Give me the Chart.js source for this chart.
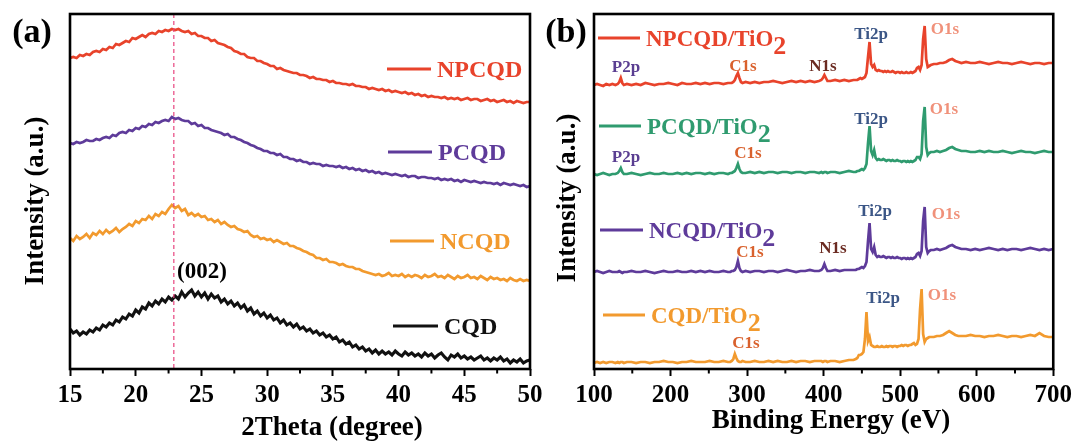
<!DOCTYPE html>
<html><head><meta charset="utf-8">
<script src="https://cdn.jsdelivr.net/npm/chart.js@4.4.0/dist/chart.umd.min.js"></script>
<style>
html,body{margin:0;padding:0;background:#fff;}
#wrap{position:relative;width:1077px;height:441px;background:#fff;}
canvas{position:absolute;left:0;top:0;}
</style>
</head><body>
<div id="wrap"><canvas id="ca" width="1077" height="441"></canvas><canvas id="cb" width="1077" height="441"></canvas></div>
<script>
// ---------- Panel (a): XRD ----------
const thetaDeg = [
15,15.25,15.5,15.75,16,16.25,16.5,16.75,17,17.25,17.5,17.75,18,18.25,18.5,18.75,19,19.25,19.5,19.75,
20,20.25,20.5,20.75,21,21.25,21.5,21.75,22,22.25,22.5,22.75,23,23.25,23.5,23.75,24,24.25,24.5,24.75,
25,25.25,25.5,25.75,26,26.25,26.5,26.75,27,27.25,27.5,27.75,28,28.25,28.5,28.75,29,29.25,29.5,29.75,
30,30.25,30.5,30.75,31,31.25,31.5,31.75,32,32.25,32.5,32.75,33,33.25,33.5,33.75,34,34.25,34.5,34.75,
35,35.25,35.5,35.75,36,36.25,36.5,36.75,37,37.25,37.5,37.75,38,38.25,38.5,38.75,39,39.25,39.5,39.75,
40,40.25,40.5,40.75,41,41.25,41.5,41.75,42,42.25,42.5,42.75,43,43.25,43.5,43.75,44,44.25,44.5,44.75,
45,45.25,45.5,45.75,46,46.25,46.5,46.75,47,47.25,47.5,47.75,48,48.25,48.5,48.75,49,49.25,49.5,49.75,50];
const npcqdXRD = [
311,312,311,314, 313,315,314,317, 318,317,320,319, 322,321,325,324, 326,328,327,331,
330,332,334,332, 335,336,335,338, 337,339,338,340, 339,340,338,337, 338,335,336,333,
333,331,331,328, 329,326,325,324, 322,321,318,317, 315,315,312,311, 311,308,308,306,
305,303,303,300, 301,299,298,297, 296,296,294,294, 293,291,292,290, 290,289,289,287,
288,286,286,285, 285,284,285,283, 283,282,282,280, 281,280,279,280, 278,279,277,278,
277,276,277,275, 276,274,275,273, 274,272,273,272, 272,271,272,270, 271,270,271,269,
270,271,269,270, 270,268,269,270, 268,269,267,268, 269,267,268,266, 268,267,266,267, 267];
const pcqdXRD = [
226,225,227,226, 227,229,228,228, 230,229,231,232, 231,234,233,236, 237,236,239,238,
241,240,243,242, 245,244,247,246, 248,249,248,252, 250,251,249,248, 248,245,246,243,
244,241,241,239, 238,237,236,234, 235,232,232,230, 229,227,226,224, 223,221,220,218,
218,216,216,214, 215,212,212,210, 210,208,209,207, 207,205,206,205, 205,203,204,203,
203,202,203,201, 202,200,201,199, 200,198,199,197, 198,196,197,195, 196,195,194,195,
194,193,194,192, 193,193,191,192, 192,191,191,190, 191,189,190,189, 190,188,189,187,
189,188,187,188, 187,186,187,186, 186,185,186,184, 186,185,184,185, 184,183,184,182, 183];
const ncqdXRD = [
131,128,133,130, 132,135,131,136, 134,138,135,139, 136,138,141,137, 140,142,145,143,
148,146,150,149, 153,150,155,153, 157,155,160,164, 161,163,158,160, 154,156,153,155,
152,153,149,150, 147,149,145,147, 144,142,143,140, 139,137,138,134, 132,133,130,131,
129,130,127,129, 127,125,126,123, 123,121,120,118, 117,115,114,111, 111,109,110,107,
107,106,104,105, 103,102,102,100, 100,98,97,96, 95,94,95,93, 94,96,93,94,
93,95,92,94, 92,94,93,91, 94,92,93,95, 92,93,91,94, 92,90,93,91,
92,94,91,92, 90,93,91,89, 92,90,91,89, 90,88,91,89, 88,90,88,89, 88];
const cqdXRD = [
40,36,38,34, 37,35,39,37, 41,39,44,42, 46,44,49,47, 52,50,55,53,
59,56,62,60, 66,63,68,65, 70,67,72,69, 73,70,77,72, 76,79,73,77,
72,76,70,75, 71,73,67,70, 65,68,63,66, 61,64,58,61, 55,58,53,56,
51,54,49,51, 46,49,44,46, 42,45,40,42, 38,40,36,38, 34,36,32,34,
30,32,27,29, 25,27,22,24, 20,22,18,20, 16,19,15,18, 15,17,14,18,
15,13,17,14, 16,13,15,12, 16,13,15,11, 14,16,12,9, 14,12,15,11,
13,10,12,9, 11,13,9,11, 8,11,9,12, 8,10,6,9, 7,10,6,8, 9];
const xrdTicks = [15,20,25,30,35,40,45,50];
const xrdMinorTicks = [17.5,22.5,27.5,32.5,37.5,42.5,47.5];
const xrdPeak002 = 22.9;

// ---------- Panel (b): XPS ----------
const energyEV = [
100,104,108,112,116,120,124,128,
131,133,135,137,139,
143,149,155,161,167,173,179,185,191,197,203,209,215,221,227,233,239,245,251,257,263,269,275,
278,280,282,284,286,288,290,292,294,
298,304,310,316,322,328,334,340,346,352,358,364,370,376,382,388,394,
397,399,401,403,405,
409,415,421,427,433,439,
442,444,446,448,450,452,454,456,458,460,462,464,466,468,470,472,474,476,478,480,
482,484,486,488,490,492,494,496,498,500,502,504,506,508,510,512,514,516,518,520,
522,524,526,528,530,532,534,536,538,540,
544,548,552,556,560,564,568,572,576,580,
586,592,598,604,610,616,622,628,634,640,646,652,658,664,670,676,682,688,694,700];
const npcqdXPS = [
284,285,284,283,285,284,285,284,
285,287,291,286,284,
285,284,285,284,286,285,284,285,285,286,285,284,286,285,285,286,285,286,285,286,286,285,286,
286,286,287,289,293,296,291,287,286,
287,286,287,286,287,287,288,287,286,287,288,287,288,287,288,287,288,
289,291,294,291,288,
288,289,288,289,288,289,
289,289,290,291,290,291,292,296,312,327,305,302,304,299,298,299,298,298,297,298,
297,298,297,297,298,297,296,297,297,296,297,296,296,297,296,296,297,296,297,298,
301,302,299,304,330,343,310,302,303,304,
305,305,306,306,307,309,310,308,307,306,
307,306,306,307,306,305,306,307,306,306,305,306,307,306,305,306,306,305,306,306];
const pcqdXPS = [
195,194,195,196,195,194,195,195,
196,198,201,197,195,
195,196,195,194,195,196,195,195,196,195,195,196,195,196,195,196,196,195,196,195,196,196,195,
196,196,197,198,201,205,200,197,196,
196,197,196,197,196,197,197,196,197,197,196,197,197,196,197,197,196,
197,196,197,197,196,
197,197,196,197,198,197,
197,198,198,199,200,199,201,205,226,243,218,214,219,211,209,210,209,209,210,209,
208,209,209,208,209,208,208,209,208,208,207,208,208,207,208,207,208,207,208,209,
212,212,210,215,248,262,222,214,216,217,
217,218,217,218,219,221,222,220,219,218,
218,217,217,218,217,218,217,217,218,217,216,217,218,217,217,216,217,218,217,217];
const ncqdXPS = [
97,98,97,96,97,98,97,97,
97,98,97,96,97,
97,98,97,97,98,97,96,97,98,97,97,98,97,97,98,97,98,97,98,97,97,98,97,
97,98,98,99,102,108,101,98,97,
98,97,98,98,97,98,98,97,98,99,98,97,98,98,99,98,98,
99,101,105,101,98,
98,99,98,99,99,99,
99,100,100,101,102,101,103,107,128,146,120,117,122,114,112,113,112,112,113,112,
111,112,112,111,112,111,111,112,111,111,110,111,111,110,111,110,111,110,111,112,
115,116,113,118,148,162,122,116,118,119,
119,120,119,120,121,123,124,122,121,120,
120,119,120,119,120,121,120,119,120,119,120,120,119,120,121,120,119,120,119,120];
const cqdXPS = [
6,7,6,7,6,7,7,6,
7,6,7,7,6,
7,7,6,7,7,6,7,7,8,7,7,6,7,7,8,7,7,7,8,7,7,8,7,
7,8,10,15,11,8,7,7,8,
7,7,8,7,7,8,7,8,7,7,8,7,8,8,7,8,8,
8,7,8,8,7,
8,8,7,8,9,9,
10,11,14,14,15,17,30,57,28,32,24,23,22,22,23,22,22,23,22,22,
23,22,23,23,22,23,23,22,23,23,24,23,24,24,23,24,24,25,26,24,
25,30,60,80,35,27,30,31,32,32,
32,33,33,34,36,38,36,34,33,33,
33,34,33,33,32,33,33,34,33,32,33,33,32,33,34,33,36,33,32,32];
const xpsTicks = [100,200,300,400,500,600,700];
const xpsMinorTicks = [150,250,350,450,550,650];

// ---------- styling ----------
const FONT = "'Liberation Serif','Times New Roman',serif";
const RED = '#e8432b', PURPLE = '#5e3b9a', ORANGE = '#f29a2e', BLACK = '#111111', GREEN = '#2f9b6f';
const C_P2P = '#5a3e91', C_C1S = '#d9612d', C_N1S = '#6b2b22', C_TI = '#3b5686', C_O1S = '#f0917a';

function pts(xs, ys){ return xs.map((x,i)=>({x:x, y:ys[i]})); }

const decoPlugin = {
  id: 'deco',
  afterDraw(chart, args, opts) {
    const ctx = chart.ctx, a = chart.chartArea, xs = chart.scales.x;
    ctx.save();
    if (opts.refLine != null) {
      const px = xs.getPixelForValue(opts.refLine);
      ctx.strokeStyle = '#e8457f'; ctx.lineWidth = 1.2; ctx.setLineDash([4,3]);
      ctx.beginPath(); ctx.moveTo(px, a.top); ctx.lineTo(px, a.bottom); ctx.stroke();
      ctx.setLineDash([]);
    }
    ctx.strokeStyle = '#000'; ctx.lineWidth = 2;
    (opts.minor||[]).forEach(v => {
      const px = xs.getPixelForValue(v);
      ctx.beginPath(); ctx.moveTo(px, a.bottom); ctx.lineTo(px, a.bottom + 4.5); ctx.stroke();
    });
    ctx.lineWidth = 2.6;
    ctx.strokeRect(a.left, a.top, a.right - a.left, a.bottom - a.top);
    (opts.legend||[]).forEach(l => {
      ctx.strokeStyle = l.color; ctx.lineWidth = 3;
      ctx.beginPath(); ctx.moveTo(l.x1, l.y); ctx.lineTo(l.x2, l.y); ctx.stroke();
      ctx.fillStyle = l.color; ctx.textAlign = 'left'; ctx.textBaseline = 'alphabetic';
      ctx.font = 'bold ' + l.size + 'px ' + FONT;
      const base = l.y + l.size * 0.33;
      ctx.fillText(l.text, l.x2 + 6, base);
      if (l.sub) {
        const w = ctx.measureText(l.text).width;
        ctx.font = 'bold ' + (l.size + 3) + 'px ' + FONT;
        ctx.fillText(l.sub, l.x2 + 6 + w, base + 8);
      }
    });
    (opts.texts||[]).forEach(t => {
      ctx.save();
      ctx.fillStyle = t.color || '#000';
      ctx.font = 'bold ' + t.size + 'px ' + FONT;
      ctx.textAlign = t.align || 'center';
      ctx.textBaseline = 'middle';
      ctx.translate(t.x, t.y);
      if (t.rot) ctx.rotate(t.rot);
      ctx.fillText(t.s, 0, 0);
      ctx.restore();
    });
    ctx.restore();
  }
};

function xAxis(min, max, ticks) {
  return {
    type: 'linear', position: 'bottom', min: min, max: max,
    afterFit: s => { s.height = 72; },
    afterBuildTicks: s => { s.ticks = ticks.map(v => ({value: v})); },
    ticks: { font: {family: FONT, size: 25, weight: 'bold'}, color: '#000', padding: 5,
             maxRotation: 0, autoSkip: false, callback: v => String(v) },
    grid: { display: true, drawOnChartArea: false, drawTicks: true, tickLength: 7, tickWidth: 2, tickColor: '#000' },
    border: { display: false }
  };
}

function ds(label, xs, ys, color, w) {
  return { label: label, data: pts(xs, ys), borderColor: color, borderWidth: w, pointRadius: 0, tension: 0, fill: false };
}

new Chart(document.getElementById('ca'), {
  type: 'line',
  data: { datasets: [
    ds('NPCQD', thetaDeg, npcqdXRD, RED, 2.7),
    ds('PCQD', thetaDeg, pcqdXRD, PURPLE, 2.7),
    ds('NCQD', thetaDeg, ncqdXRD, ORANGE, 2.7),
    ds('CQD', thetaDeg, cqdXRD, BLACK, 3.1)
  ]},
  options: {
    responsive: false, animation: false, devicePixelRatio: 1,
    layout: { padding: { left: 70, right: 547, top: 14, bottom: 0 } },
    scales: { x: xAxis(15, 50, xrdTicks), y: { display: false, min: 0, max: 355 } },
    plugins: {
      legend: { display: false }, tooltip: { enabled: false },
      deco: {
        refLine: xrdPeak002, minor: xrdMinorTicks,
        legend: [
          {x1: 387, x2: 431, y: 69, color: RED, text: 'NPCQD', size: 24},
          {x1: 388, x2: 432, y: 152, color: PURPLE, text: 'PCQD', size: 24},
          {x1: 390, x2: 434, y: 241, color: ORANGE, text: 'NCQD', size: 24},
          {x1: 393, x2: 438, y: 326, color: BLACK, text: 'CQD', size: 24}
        ],
        texts: [
          {s: '(a)', x: 32, y: 33, size: 34},
          {s: '(002)', x: 202, y: 272, size: 23},
          {s: '2Theta (degree)', x: 332, y: 428, size: 27},
          {s: 'Intensity (a.u.)', x: 36, y: 201, size: 27, rot: -Math.PI/2}
        ]
      }
    }
  },
  plugins: [decoPlugin]
});

new Chart(document.getElementById('cb'), {
  type: 'line',
  data: { datasets: [
    ds('NPCQD/TiO2', energyEV, npcqdXPS, RED, 2.7),
    ds('PCQD/TiO2', energyEV, pcqdXPS, GREEN, 2.7),
    ds('NCQD/TiO2', energyEV, ncqdXPS, PURPLE, 2.7),
    ds('CQD/TiO2', energyEV, cqdXPS, ORANGE, 2.7)
  ]},
  options: {
    responsive: false, animation: false, devicePixelRatio: 1,
    layout: { padding: { left: 594, right: 23, top: 14, bottom: 0 } },
    scales: { x: xAxis(100, 700, xpsTicks), y: { display: false, min: 0, max: 355 } },
    plugins: {
      legend: { display: false }, tooltip: { enabled: false },
      deco: {
        refLine: null, minor: xpsMinorTicks,
        legend: [
          {x1: 598, x2: 640, y: 38, color: RED, text: 'NPCQD/TiO', sub: '2', size: 23},
          {x1: 599, x2: 641, y: 126, color: GREEN, text: 'PCQD/TiO', sub: '2', size: 23},
          {x1: 600, x2: 643, y: 230, color: PURPLE, text: 'NCQD/TiO', sub: '2', size: 23},
          {x1: 603, x2: 645, y: 315, color: ORANGE, text: 'CQD/TiO', sub: '2', size: 23}
        ],
        texts: [
          {s: '(b)', x: 566, y: 33, size: 34},
          {s: 'P2p', x: 626, y: 68, size: 17, color: C_P2P},
          {s: 'C1s', x: 743, y: 67, size: 17, color: C_C1S},
          {s: 'N1s', x: 823, y: 67, size: 17, color: C_N1S},
          {s: 'Ti2p', x: 871, y: 35, size: 17, color: C_TI},
          {s: 'O1s', x: 945, y: 30, size: 17, color: C_O1S},
          {s: 'P2p', x: 626, y: 158, size: 17, color: C_P2P},
          {s: 'C1s', x: 748, y: 154, size: 17, color: C_C1S},
          {s: 'Ti2p', x: 871, y: 120, size: 17, color: C_TI},
          {s: 'O1s', x: 944, y: 110, size: 17, color: C_O1S},
          {s: 'C1s', x: 750, y: 253, size: 17, color: C_C1S},
          {s: 'N1s', x: 833, y: 249, size: 17, color: C_N1S},
          {s: 'Ti2p', x: 875, y: 212, size: 17, color: C_TI},
          {s: 'O1s', x: 946, y: 215, size: 17, color: C_O1S},
          {s: 'C1s', x: 746, y: 344, size: 17, color: C_C1S},
          {s: 'Ti2p', x: 883, y: 299, size: 17, color: C_TI},
          {s: 'O1s', x: 942, y: 296, size: 17, color: C_O1S},
          {s: 'Binding Energy (eV)', x: 831, y: 421, size: 27},
          {s: 'Intensity (a.u.)', x: 568, y: 198, size: 27, rot: -Math.PI/2}
        ]
      }
    }
  },
  plugins: [decoPlugin]
});
</script>
</body></html>
